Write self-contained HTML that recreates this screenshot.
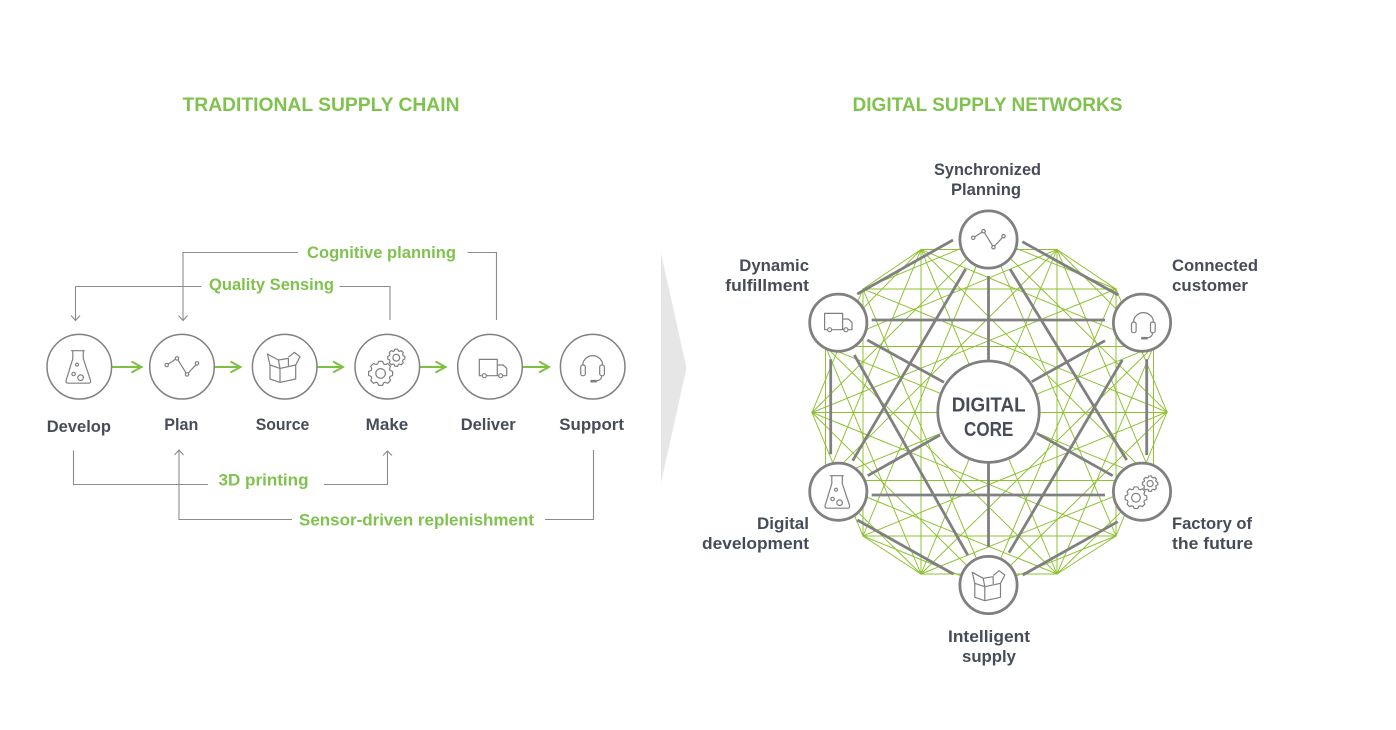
<!DOCTYPE html>
<html><head><meta charset="utf-8"><title>Traditional Supply Chain vs Digital Supply Networks</title>
<style>
html,body{margin:0;padding:0;background:#fff}
svg{display:block}
text{font-family:"Liberation Sans",sans-serif;font-weight:bold}
.g{fill:#7fc24e}
.d{fill:#474c59}
.c{fill:none;stroke:#8c8c8c;stroke-width:1.1}
.a{fill:none;stroke:#7cc142;stroke-width:2}
.n{fill:#fff;stroke:#808080;stroke-width:1.5}
.h{fill:#fff;stroke:#808080;stroke-width:2.8}
.i{fill:none;stroke:#808080;stroke-width:1.2;stroke-linejoin:round}
.m polygon,.m polyline,.m line{fill:none;stroke:#8cc02e;stroke-width:.95}
.t line{stroke:#808080;stroke-width:2.8}
</style></head><body>
<svg width="1396" height="730" viewBox="0 0 1396 730" xmlns="http://www.w3.org/2000/svg">
<defs>
<g id="flask"><path d="M-8.5,-16H5.5M-6.5,-16V-8L-13,13Q-14,16.5-11,16.5H9.5Q12,16.5 11,13L4,-8V-16"/><circle cx="-2.3" cy="-2" r="1.5"/><circle cx="-5.7" cy="7.3" r="1.7"/><circle cx="1.3" cy="11" r="2.8"/></g>
<g id="plan"><path d="M-13.8,-2.6L-6.5,-7.4M-4,-6.8L4,6.2M6.2,6.4L14,-2"/><circle cx="-15.3" cy="-1.7" r="1.7"/><circle cx="-5" cy="-8.3" r="1.7"/><circle cx="5" cy="7.7" r="1.7"/><circle cx="15" cy="-3.3" r="1.7"/></g>
<g id="box"><path d="M-14.7,-1.7L-4.7,1.7L11,-1.7V12.3L-4.7,15.7L-14.7,12.3ZM-4.7,1.7V15.7M-14.7,-1.7L-17.3,-12.7L-6.3,-6.7L-4.7,1.7M-6.3,-6.7L3.7,-8.3V-1M11,-1.7L15.3,-10L9.7,-14.3L3.7,-9.5"/></g>
<g id="truck"><path d="M-7.7,9H-10.7V-7.3H7.3V9M7.3,-1.7H13L16.7,1.5V9H12.7M-3.7,9H8.7"/><circle cx="-5.7" cy="9" r="2"/><circle cx="10.7" cy="9" r="2"/></g>
<g id="headset"><path d="M-9.8,-1.7V-3.5A10.2,10.5 0 0 1 9.8,-3.5V-1.7M9,9Q9,14 2,14.3"/><rect x="-12" y="-1.7" width="4.6" height="10.7" rx="2"/><rect x="7" y="-1.7" width="4.7" height="10.7" rx="2"/><path d="M-1.2,14.5H3" stroke-width="2.6" stroke-linecap="round"/></g>
<g id="gear"><polygon vector-effect="non-scaling-stroke" points="-2,-12 2,-12 3,-9.5 4.6,-8.84 7.07,-9.9 9.9,-7.07 8.84,-4.6 9.5,-3 12,-2 12,2 9.5,3 8.84,4.6 9.9,7.07 7.07,9.9 4.6,8.84 3,9.5 2,12 -2,12 -3,9.5 -4.6,8.84 -7.07,9.9 -9.9,7.07 -8.84,4.6 -9.5,3 -12,2 -12,-2 -9.5,-3 -8.84,-4.6 -9.9,-7.07 -7.07,-9.9 -4.6,-8.84 -3,-9.5"/><circle vector-effect="non-scaling-stroke" r="4.8"/></g>
<g id="gears"><use href="#gear" transform="translate(-6.7,6.7)"/><use href="#gear" transform="translate(9,-9) scale(.71)"/></g>
</defs>

<text class="g" x="182.5" y="111" font-size="19.5" textLength="277" lengthAdjust="spacingAndGlyphs">TRADITIONAL SUPPLY CHAIN</text>
<text class="g" x="852.5" y="111" font-size="19.5" textLength="270" lengthAdjust="spacingAndGlyphs">DIGITAL SUPPLY NETWORKS</text>

<!-- connectors -->
<path class="c" d="M298,252.5H183V320M178.5,315.5L183,320.5L187.5,315.5"/>
<path class="c" d="M467.5,252.5H496.5V320"/>
<path class="c" d="M201.5,286.5H75.5V320M71,315.5L75.5,320.5L80,315.5"/>
<path class="c" d="M339.5,286.5H390V320"/>
<path class="c" d="M73.5,450.5V484.5H208"/>
<path class="c" d="M324,484.5H387.5V451M383,455.5L387.5,451L392,455.5"/>
<path class="c" d="M179,450V519.5H292"/>
<path class="c" d="M174.5,455L179,450L183.5,455"/>
<path class="c" d="M545,519.5H593.5V450"/>
<text class="g" x="307" y="258" font-size="17" textLength="149" lengthAdjust="spacingAndGlyphs">Cognitive planning</text>
<text class="g" x="209" y="290" font-size="17" textLength="125" lengthAdjust="spacingAndGlyphs">Quality Sensing</text>
<text class="g" x="218.5" y="485.5" font-size="17" textLength="90" lengthAdjust="spacingAndGlyphs">3D printing</text>
<text class="g" x="299" y="525.5" font-size="17" textLength="235" lengthAdjust="spacingAndGlyphs">Sensor-driven replenishment</text>

<!-- chain arrows -->
<path class="a" d="M112,367H141M131.5,361.5L141.5,367L131.5,372.5"/>
<path class="a" d="M214.5,367H240.5M230.5,361.5L240.5,367L230.5,372.5"/>
<path class="a" d="M317,367H343M333,361.5L343,367L333,372.5"/>
<path class="a" d="M420,367H445.5M435.5,361.5L445.5,367L435.5,372.5"/>
<path class="a" d="M522.5,367H549M539,361.5L549,367L539,372.5"/>

<circle class="n" cx="79.3" cy="366.7" r="32.3"/>
<circle class="n" cx="182" cy="366.7" r="32.3"/>
<circle class="n" cx="284.7" cy="366.7" r="32.3"/>
<circle class="n" cx="387.3" cy="366.7" r="32.3"/>
<circle class="n" cx="490" cy="366.7" r="32.3"/>
<circle class="n" cx="592.7" cy="366.7" r="32.3"/>
<g class="i">
<use href="#flask" x="79.3" y="366.7"/>
<use href="#plan" x="182" y="366.7"/>
<use href="#box" x="284.7" y="366.7"/>
<use href="#gears" x="387.3" y="366.7"/>
<use href="#truck" x="490" y="366.7"/>
<use href="#headset" x="592.7" y="366.7"/>
</g>
<text class="d" x="46.7" y="432" font-size="17" textLength="64.3" lengthAdjust="spacingAndGlyphs">Develop</text>
<text class="d" x="164.3" y="430" font-size="17" textLength="34" lengthAdjust="spacingAndGlyphs">Plan</text>
<text class="d" x="255.7" y="430" font-size="17" textLength="53.6" lengthAdjust="spacingAndGlyphs">Source</text>
<text class="d" x="365.7" y="430" font-size="17" textLength="42.6" lengthAdjust="spacingAndGlyphs">Make</text>
<text class="d" x="460.7" y="430" font-size="17" textLength="55" lengthAdjust="spacingAndGlyphs">Deliver</text>
<text class="d" x="559.3" y="430" font-size="17" textLength="64.7" lengthAdjust="spacingAndGlyphs">Support</text>

<polygon points="661,253 686.5,368 661,483" fill="#e6e6e6"/>

<!-- green mesh -->
<g class="m">
<line x1="921" y1="249.5" x2="863" y2="289"/>
<line x1="1057" y1="249.5" x2="1116" y2="289"/>
<line x1="1116" y1="536" x2="1057" y2="574"/>
<line x1="921" y1="574" x2="863" y2="536"/>
<polygon points="988.5,237 1116,289 1167,412 1116,536 988.5,587 863,536 812,412.5 863,289"/>
<polygon points="1057,249.5 1153.5,346.5 1153.5,480.5 1057,574 921,574 825.5,480.5 825.5,346.5 921,249.5"/>
<polygon points="988.5,237 1167,412 988.5,587 812,412.5"/>
<polygon points="1057,249.5 1153.5,480.5 921,574 825.5,346.5"/>
<polygon points="1116,289 1116,536 863,536 863,289"/>
<polygon points="1153.5,346.5 1057,574 825.5,480.5 921,249.5"/>
<polygon points="988.5,237 1116,536 812,412.5 1116,289 988.5,587 863,289 1167,412 863,536"/>
<polygon points="1057,249.5 1057,574 825.5,346.5 1153.5,346.5 921,574 921,249.5 1153.5,480.5 825.5,480.5"/>
<line x1="812" y1="412.5" x2="1167" y2="412.5"/>
<line x1="1057" y1="249.5" x2="921" y2="574"/>
<line x1="1153.5" y1="346.5" x2="825.5" y2="480.5"/>
<line x1="1153.5" y1="480.5" x2="825.5" y2="346.5"/>
<line x1="1057" y1="574" x2="921" y2="249.5"/>
</g>

<!-- grey spokes -->
<g class="t">
<line x1="953" y1="240" x2="857.3" y2="294"/>
<line x1="1022.3" y1="241.7" x2="1118.3" y2="295"/>
<line x1="1022.7" y1="575" x2="1117.7" y2="521.7"/>
<line x1="857.3" y1="520" x2="953.3" y2="574"/>
<line x1="830.7" y1="359.3" x2="830.7" y2="454.3"/>
<line x1="1146.7" y1="359.3" x2="1146.7" y2="455"/>
<line x1="871.7" y1="320" x2="1105" y2="320"/>
<line x1="871.7" y1="495" x2="1105" y2="495"/>
<line x1="965.7" y1="269" x2="852.7" y2="460.7"/>
<line x1="1010" y1="269" x2="1126.7" y2="460"/>
<line x1="854.3" y1="355" x2="967.7" y2="555"/>
<line x1="1122.3" y1="360" x2="1009" y2="552.7"/>
<line x1="867.3" y1="340" x2="944" y2="382.3"/>
<line x1="1105" y1="340.7" x2="1031.7" y2="381.7"/>
<line x1="940" y1="435" x2="867.7" y2="475.7"/>
<line x1="1036.7" y1="433.3" x2="1112.7" y2="475.7"/>
<line x1="988.5" y1="276" x2="988.5" y2="362"/>
<line x1="988.5" y1="462" x2="988.5" y2="547"/>
</g>

<circle class="h" cx="988.5" cy="411.7" r="50.7"/>
<circle class="h" cx="988.5" cy="239.5" r="28.6"/>
<circle class="h" cx="838.3" cy="322.7" r="28.6"/>
<circle class="h" cx="1142" cy="322.7" r="28.6"/>
<circle class="h" cx="838.3" cy="491.7" r="28.6"/>
<circle class="h" cx="1142" cy="491.7" r="28.6"/>
<circle class="h" cx="988.5" cy="585" r="28.6"/>
<g class="i">
<use href="#plan" x="988.5" y="239.5"/>
<use href="#truck" x="835.3" y="320.7"/>
<use href="#headset" x="1143.5" y="323.7"/>
<use href="#flask" x="838.3" y="491.7"/>
<g transform="translate(1142,491.7) scale(.9)"><use href="#gears"/></g>
<use href="#box" x="989.5" y="585"/>
</g>

<text class="d" x="951.7" y="411.7" font-size="20" textLength="74" lengthAdjust="spacingAndGlyphs">DIGITAL</text>
<text class="d" x="964" y="436" font-size="20" textLength="49.3" lengthAdjust="spacingAndGlyphs">CORE</text>
<text class="d" x="934" y="175" font-size="16.5" textLength="107" lengthAdjust="spacingAndGlyphs">Synchronized</text>
<text class="d" x="951" y="195" font-size="16.5" textLength="70" lengthAdjust="spacingAndGlyphs">Planning</text>
<text class="d" x="739.3" y="271" font-size="16.5" textLength="69.7" lengthAdjust="spacingAndGlyphs">Dynamic</text>
<text class="d" x="725.3" y="291" font-size="16.5" textLength="83.7" lengthAdjust="spacingAndGlyphs">fulfillment</text>
<text class="d" x="1172" y="271" font-size="16.5" textLength="86" lengthAdjust="spacingAndGlyphs">Connected</text>
<text class="d" x="1172" y="291" font-size="16.5" textLength="76" lengthAdjust="spacingAndGlyphs">customer</text>
<text class="d" x="757" y="529" font-size="16.5" textLength="52" lengthAdjust="spacingAndGlyphs">Digital</text>
<text class="d" x="702" y="549" font-size="16.5" textLength="107" lengthAdjust="spacingAndGlyphs">development</text>
<text class="d" x="1172" y="529" font-size="16.5" textLength="80" lengthAdjust="spacingAndGlyphs">Factory of</text>
<text class="d" x="1172" y="549" font-size="16.5" textLength="81" lengthAdjust="spacingAndGlyphs">the future</text>
<text class="d" x="948" y="642" font-size="16.5" textLength="82" lengthAdjust="spacingAndGlyphs">Intelligent</text>
<text class="d" x="962" y="662" font-size="16.5" textLength="54" lengthAdjust="spacingAndGlyphs">supply</text>
</svg>
</body></html>
